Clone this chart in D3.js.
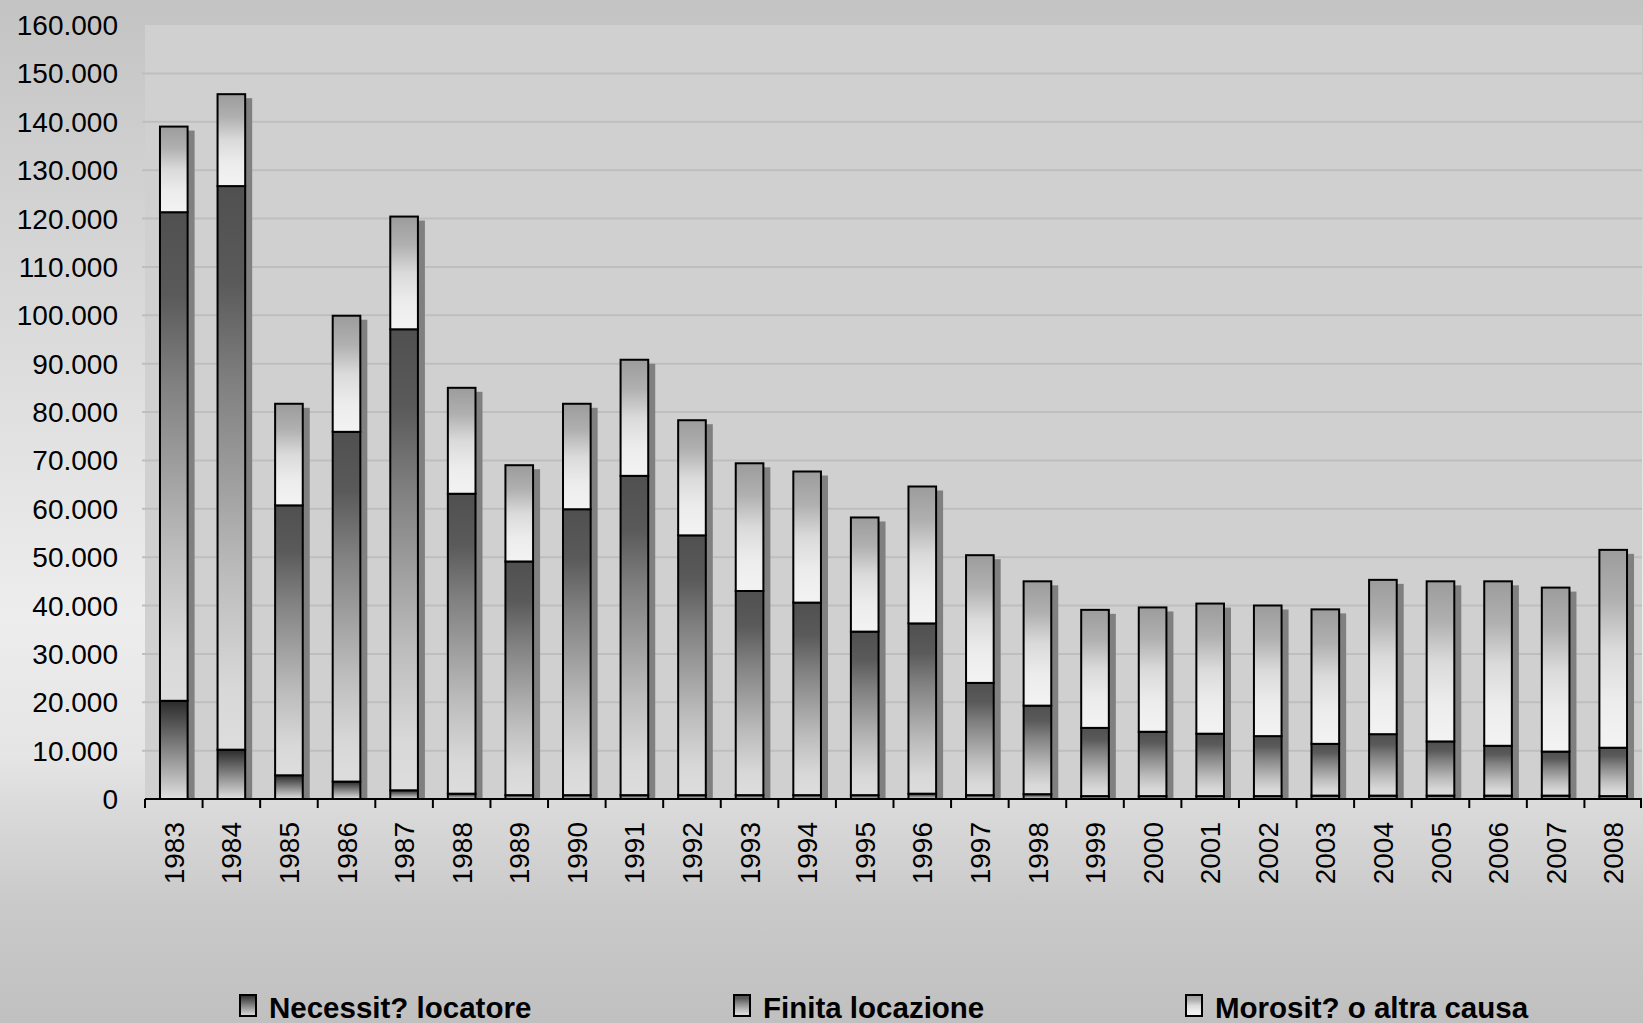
<!DOCTYPE html>
<html>
<head>
<meta charset="utf-8">
<script src="https://cdn.jsdelivr.net/npm/d3@7"></script>
<style>
  body { margin: 0; background: #c0c0c0; }
  svg { display: block; font-family: "Liberation Sans", Arial, sans-serif; }
</style>
</head>
<body>
<div id="chart"></div>
<script>
const DIMENSIONS = {
    width: 1643,
    height: 1023
}

// plot box inside the svg
const plot = { left: 145, right: 1642, top: 25, bottom: 799 }

const years = [1983, 1984, 1985, 1986, 1987, 1988, 1989, 1990, 1991, 1992, 1993, 1994, 1995,
    1996, 1997, 1998, 1999, 2000, 2001, 2002, 2003, 2004, 2005, 2006, 2007, 2008];

const necessita = [20300, 10200, 4900, 3600, 1800, 1100, 800, 800, 800, 800, 800, 800, 800,
    1100, 800, 1000, 600, 600, 600, 600, 700, 700, 700, 700, 700, 600];

const finita = [101000, 116500, 55800, 72300, 95300, 62000, 48300, 59100, 66000, 53700, 42200, 39800, 33800,
    35200, 23200, 18300, 14100, 13300, 12900, 12400, 10700, 12700, 11200, 10300, 9100, 10000];

const morosita = [17700, 19000, 21000, 24000, 23300, 21900, 19900, 21800, 24000, 23800, 26400, 27100, 23600,
    28300, 26400, 25700, 24400, 25700, 26900, 27000, 27800, 31900, 33100, 34000, 33900, 40900];

const yTicks = [0, 10000, 20000, 30000, 40000, 50000, 60000, 70000, 80000,
    90000, 100000, 110000, 120000, 130000, 140000, 150000, 160000];

const seriesNames = ["Necessit? locatore", "Finita locazione", "Morosit? o altra causa"];
const seriesKeys = ["nec", "fin", "mor"];

document.addEventListener("DOMContentLoaded", () => {
    const rows = years.map((yr, i) => ({
        year: yr,
        nec: necessita[i],
        fin: finita[i],
        mor: morosita[i]
    }));
    drawChart(rows);
})

function addGradient(defs, id, stops) {
    const g = defs.append("linearGradient")
        .attr("id", id)
        .attr("x1", 0).attr("y1", 0)
        .attr("x2", 0).attr("y2", 1);
    stops.forEach(s => {
        g.append("stop").attr("offset", s[0]).attr("stop-color", s[1]);
    });
}

function drawChart(rows) {
    const svg = d3.select("#chart")
        .append("svg")
        .attr("width", DIMENSIONS.width)
        .attr("height", DIMENSIONS.height);

    const defs = svg.append("defs");
    addGradient(defs, "bg", [[0, "#c3c3c3"], [0.15, "#cfcfcf"], [0.6, "#ededed"], [0.74, "#e5e5e5"],
        [0.79, "#dadada"], [0.83, "#d3d3d3"], [0.88, "#cacaca"], [1, "#c0c0c0"]]);
    addGradient(defs, "g-nec", [[0, "#2a2a2a"], [0.5, "#858585"], [1, "#e0e0e0"]]);
    addGradient(defs, "g-fin", [[0, "#505050"], [0.17, "#5a5a5a"], [0.35, "#808080"],
        [0.69, "#bcbcbc"], [0.89, "#d8d8d8"], [1, "#dddddd"]]);
    addGradient(defs, "g-mor", [[0, "#9c9c9c"], [0.25, "#b0b0b0"], [0.5, "#dadada"],
        [0.75, "#ececec"], [1, "#f3f3f3"]]);

    svg.append("rect")
        .attr("width", DIMENSIONS.width)
        .attr("height", DIMENSIONS.height)
        .attr("fill", "url(#bg)");

    svg.append("rect")
        .attr("x", plot.left)
        .attr("y", plot.top)
        .attr("width", plot.right - plot.left)
        .attr("height", plot.bottom - plot.top)
        .attr("fill", "#d0d0d0");

    // scales
    const x = d3.scaleBand()
        .domain(years)
        .range([plot.left, plot.right])
        .padding(0);

    const y = d3.scaleLinear()
        .domain([0, 160000])
        .range([plot.bottom, plot.top]);

    const it = d3.formatLocale({ decimal: ",", thousands: ".", grouping: [3], currency: ["", ""] });
    const fmt = it.format(",d");

    // gridlines
    svg.append("g")
        .selectAll("line")
        .data(yTicks.filter(d => d > 0 && d < 160000))
        .enter().append("line")
        .attr("x1", plot.left - 3)
        .attr("x2", plot.right)
        .attr("y1", d => y(d))
        .attr("y2", d => y(d))
        .attr("stroke", "#bebebe")
        .attr("stroke-width", 2);

    // y labels
    svg.append("g")
        .selectAll("text")
        .data(yTicks)
        .enter().append("text")
        .attr("x", 118)
        .attr("y", d => y(d))
        .attr("dy", "0.36em")
        .attr("text-anchor", "end")
        .attr("font-size", 28)
        .attr("fill", "#000")
        .text(d => fmt(d));

    const stack = d3.stack().keys(seriesKeys);
    const layers = stack(rows);
    const totals = rows.map(r => r.nec + r.fin + r.mor);

    const barW = x.bandwidth() * 0.48;
    const barOff = (x.bandwidth() - barW) / 2;

    // shadows
    svg.append("g")
        .selectAll("rect")
        .data(rows)
        .enter().append("rect")
        .attr("x", (d, i) => x(d.year) + barOff + 6)
        .attr("y", (d, i) => y(totals[i]) + 4)
        .attr("width", barW + 1)
        .attr("height", (d, i) => y(0) - y(totals[i]) - 4)
        .attr("fill", "#808080");

    // stacked bars
    svg.append("g")
        .selectAll("g")
        .data(layers)
        .enter().append("g")
        .attr("fill", d => "url(#g-" + d.key + ")")
        .selectAll("rect")
        .data(d => d)
        .enter().append("rect")
        .attr("x", d => x(d.data.year) + barOff)
        .attr("y", d => y(d[1]))
        .attr("width", barW)
        .attr("height", d => y(d[0]) - y(d[1]))
        .attr("stroke", "#000")
        .attr("stroke-width", 2);

    // x axis line and ticks at band edges
    const axis = svg.append("g");
    axis.append("line")
        .attr("x1", plot.left)
        .attr("x2", plot.right)
        .attr("y1", y(0))
        .attr("y2", y(0))
        .attr("stroke", "#000")
        .attr("stroke-width", 2);

    const edges = years.map(yr => x(yr)).concat([x.range()[1] - 1]);
    axis.selectAll("line.tick")
        .data(edges)
        .enter().append("line")
        .attr("class", "tick")
        .attr("x1", d => d)
        .attr("x2", d => d)
        .attr("y1", y(0))
        .attr("y2", y(0) + 9)
        .attr("stroke", "#000")
        .attr("stroke-width", 2);

    axis.selectAll("text")
        .data(years)
        .enter().append("text")
        .attr("transform", d => "translate(" + (x(d) + x.bandwidth() / 2) + "," + (y(0) + 23) + ") rotate(-90)")
        .attr("dy", "0.36em")
        .attr("text-anchor", "end")
        .attr("font-size", 28)
        .attr("fill", "#000")
        .text(d => d);

    // legend
    const legendX = [269, 763, 1215];
    const legend = svg.append("g")
        .selectAll("g")
        .data(seriesKeys)
        .enter().append("g")
        .attr("transform", (d, i) => "translate(" + legendX[i] + ",1018)");

    legend.append("rect")
        .attr("x", -29)
        .attr("y", -23)
        .attr("width", 16)
        .attr("height", 21)
        .attr("fill", d => "url(#g-" + d + ")")
        .attr("stroke", "#000")
        .attr("stroke-width", 2);

    legend.append("text")
        .attr("font-size", 29.5)
        .attr("font-weight", "bold")
        .attr("fill", "#000")
        .text((d, i) => seriesNames[i]);
}
</script>
</body>
</html>
